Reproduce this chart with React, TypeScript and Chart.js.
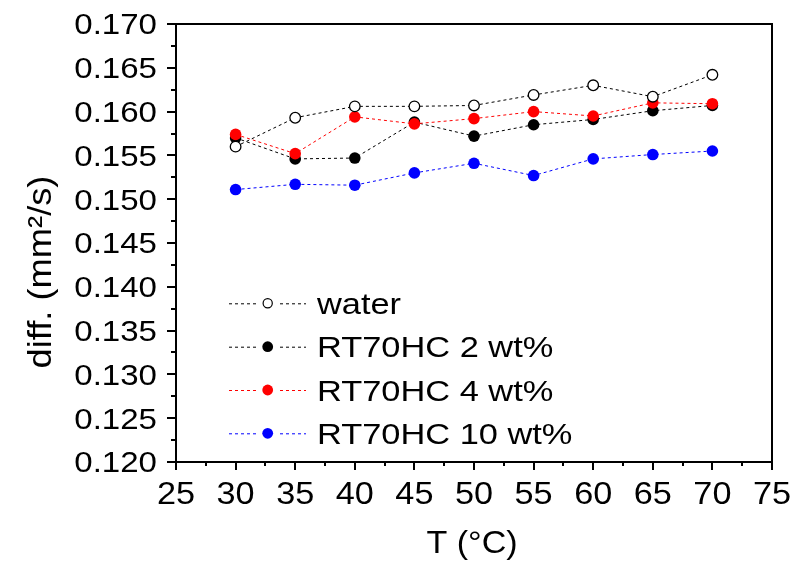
import React, { useEffect, useRef } from "react";
import { Chart, registerables } from "chart.js";

Chart.register(...registerables);

const temperatures = [30, 35, 40, 45, 50, 55, 60, 65, 70];
const water = [0.156, 0.1593, 0.1606, 0.1606, 0.1607, 0.1619, 0.163, 0.1617, 0.1642];
const rt2 = [0.157, 0.1546, 0.1547, 0.1588, 0.1572, 0.1585, 0.1591, 0.1601, 0.1607];
const rt4 = [0.1574, 0.1552, 0.1594, 0.1586, 0.1592, 0.16, 0.1595, 0.161, 0.1609];
const rt10 = [0.1511, 0.1517, 0.1516, 0.153, 0.1541, 0.1527, 0.1546, 0.1551, 0.1555];

const seriesLabels = ["water", "RT70HC 2 wt%", "RT70HC 4 wt%", "RT70HC 10 wt%"];
const xTickValues = [25, 30, 35, 40, 45, 50, 55, 60, 65, 70, 75];
const xTickLabels = ["25", "30", "35", "40", "45", "50", "55", "60", "65", "70", "75"];
const yTickValues = [0.12, 0.125, 0.13, 0.135, 0.14, 0.145, 0.15, 0.155, 0.16, 0.165, 0.17];
const yTickLabels = ["0.120", "0.125", "0.130", "0.135", "0.140", "0.145", "0.150", "0.155", "0.160", "0.165", "0.170"];
const xTitle = "T (°C)";
const yTitle = "diff. (mm²/s)";

const FONT = "'Liberation Sans', Arial, sans-serif";

function stretchText(
  ctx: CanvasRenderingContext2D,
  text: string,
  x: number,
  y: number,
  sx: number,
  align: CanvasTextAlign,
  rotate = 0
) {
  ctx.save();
  ctx.translate(x, y);
  if (rotate) ctx.rotate(rotate);
  ctx.scale(sx, 1);
  ctx.textAlign = align;
  ctx.textBaseline = "alphabetic";
  ctx.fillText(text, 0, 0);
  ctx.restore();
}

const decorPlugin = {
  id: "decor",
  afterDraw(chart: any) {
    const ctx: CanvasRenderingContext2D = chart.ctx;
    const { left, right, top, bottom } = chart.chartArea;
    const xs = chart.scales.x;
    const ys = chart.scales.y;
    ctx.save();
    ctx.strokeStyle = "#000";
    ctx.fillStyle = "#000";
    ctx.lineWidth = 2;
    ctx.setLineDash([]);
    // frame
    ctx.beginPath();
    ctx.rect(left, top, right - left, bottom - top);
    ctx.stroke();
    // major ticks
    ctx.beginPath();
    xTickValues.forEach((v) => {
      const px = Math.round(xs.getPixelForValue(v));
      ctx.moveTo(px, bottom);
      ctx.lineTo(px, bottom + 8);
    });
    yTickValues.forEach((v) => {
      const py = Math.round(ys.getPixelForValue(v));
      ctx.moveTo(left, py);
      ctx.lineTo(left - 9, py);
    });
    // minor ticks
    for (let i = 0; i < xTickValues.length - 1; i++) {
      const px = Math.round(xs.getPixelForValue((xTickValues[i] + xTickValues[i + 1]) / 2));
      ctx.moveTo(px, bottom);
      ctx.lineTo(px, bottom + 4);
    }
    for (let i = 0; i < yTickValues.length - 1; i++) {
      const py = Math.round(ys.getPixelForValue((yTickValues[i] + yTickValues[i + 1]) / 2));
      ctx.moveTo(left, py);
      ctx.lineTo(left - 5, py);
    }
    ctx.stroke();

    // tick labels
    ctx.font = `29px ${FONT}`;
    yTickValues.forEach((v, i) => {
      const py = ys.getPixelForValue(v);
      stretchText(ctx, yTickLabels[i], left - 19, py + 10.4, 1.14, "right");
    });
    ctx.font = `32px ${FONT}`;
    xTickValues.forEach((v, i) => {
      const px = xs.getPixelForValue(v);
      stretchText(ctx, xTickLabels[i], px, bottom + 42, 1.07, "center");
    });

    // axis titles
    ctx.font = `32px ${FONT}`;
    stretchText(ctx, xTitle, (left + right) / 2 - 2, 553, 1.065, "center");
    ctx.font = `33px ${FONT}`;
    stretchText(ctx, yTitle, 51, 272, 1.1, "center", -Math.PI / 2);

    // legend
    const rowBaselines = [314, 357.4, 400.7, 444];
    chart.data.datasets.forEach((ds: any, i: number) => {
      const base = rowBaselines[i];
      const cy = base - 10.7;
      ctx.save();
      ctx.strokeStyle = ds.borderColor;
      ctx.lineWidth = 1;
      ctx.setLineDash([3, 3]);
      ctx.beginPath();
      ctx.moveTo(229, cy + 0.5);
      ctx.lineTo(256, cy + 0.5);
      ctx.moveTo(280, cy + 0.5);
      ctx.lineTo(306, cy + 0.5);
      ctx.stroke();
      ctx.setLineDash([]);
      ctx.beginPath();
      const hollow = ds.pointBorderWidth > 0;
      ctx.arc(267.7, cy, hollow ? 4.6 : 5.4, 0, Math.PI * 2);
      ctx.fillStyle = ds.pointBackgroundColor;
      ctx.fill();
      if (hollow) {
        ctx.lineWidth = 1.2;
        ctx.strokeStyle = ds.pointBorderColor;
        ctx.stroke();
      }
      ctx.restore();
      ctx.fillStyle = "#000";
      ctx.font = `30px ${FONT}`;
      stretchText(ctx, ds.label, 317, base, 1.146, "left");
    });
    ctx.restore();
  },
};

function makeSeries(label: string, values: number[], color: string, fill: string, borderW: number, order: number) {
  return {
    label,
    data: temperatures.map((t, i) => ({ x: t, y: values[i] })),
    borderColor: color,
    borderWidth: 1,
    borderDash: [3, 3],
    pointRadius: borderW > 0 ? 5.3 : 5.8,
    pointBackgroundColor: fill,
    pointBorderColor: color,
    pointBorderWidth: borderW,
    pointHoverRadius: 5.8,
    tension: 0,
    fill: false,
    order,
  };
}

export default function App() {
  const ref = useRef<HTMLCanvasElement | null>(null);
  useEffect(() => {
    if (!ref.current) return;
    const chart = new Chart(ref.current, {
      type: "line",
      data: {
        datasets: [
          makeSeries(seriesLabels[0], water, "#000000", "#ffffff", 1.3, 1),
          makeSeries(seriesLabels[1], rt2, "#000000", "#000000", 0, 3),
          makeSeries(seriesLabels[2], rt4, "#ff0000", "#ff0000", 0, 2),
          makeSeries(seriesLabels[3], rt10, "#0000ff", "#0000ff", 0, 4),
        ] as any,
      },
      options: {
        animation: false,
        responsive: false,
        devicePixelRatio: 1,
        events: [],
        layout: { padding: { top: 24, right: 34, left: 0, bottom: 0 } },
        plugins: { legend: { display: false }, tooltip: { enabled: false } },
        scales: {
          x: {
            type: "linear",
            min: 25,
            max: 75,
            afterBuildTicks: (s: any) => {
              s.ticks = xTickValues.map((v) => ({ value: v }));
            },
            ticks: { display: false },
            grid: { display: false },
            border: { display: false },
            afterFit: (s: any) => {
              s.height = 100;
            },
          },
          y: {
            type: "linear",
            min: 0.12,
            max: 0.17,
            afterBuildTicks: (s: any) => {
              s.ticks = yTickValues.map((v) => ({ value: v }));
            },
            ticks: { display: false },
            grid: { display: false },
            border: { display: false },
            afterFit: (s: any) => {
              s.width = 176;
            },
          },
        },
      } as any,
      plugins: [decorPlugin],
    });
    return () => chart.destroy();
  }, []);
  return (
    <div style={{ position: "absolute", left: 0, top: 0, width: 806, height: 562, background: "#fff" }}>
      <canvas ref={ref} width={806} height={562} style={{ display: "block", width: 806, height: 562 }} />
    </div>
  );
}
